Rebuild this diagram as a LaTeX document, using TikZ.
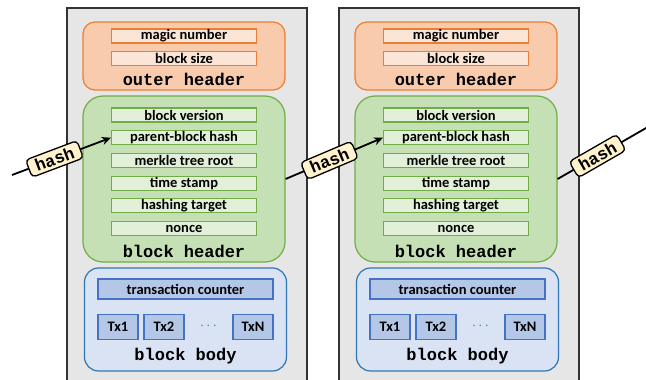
\documentclass[tikz,border=0pt]{standalone}
\usepackage{fontspec}
\setmainfont{Carlito}
\newfontfamily\courier{Liberation Mono}
\usetikzlibrary{arrows.meta}
\usetikzlibrary{positioning}
\usetikzlibrary{calc}
\definecolor{blkgray}{HTML}{E6E6E6}
\definecolor{orline}{HTML}{ED7D31}
\definecolor{orfill}{HTML}{F8CBAD}
\definecolor{orfield}{HTML}{FBE5D6}
\definecolor{grline}{HTML}{70AD47}
\definecolor{grfill}{HTML}{C5E0B4}
\definecolor{grfield}{HTML}{E2F0D9}
\definecolor{blline}{HTML}{2E75B6}
\definecolor{blfill}{HTML}{DAE3F3}
\definecolor{blfield}{HTML}{B4C7E7}
\definecolor{blfline}{HTML}{4472C4}
\definecolor{tagfill}{HTML}{FFF2CC}
\tikzset{
	container/.style={draw, line width=1.2pt, minimum width=202pt},
	field/.style={draw, line width=1.2pt, inner sep=0pt, minimum width=145pt,
		minimum height=14pt, font=\fontsize{14.5}{15}\selectfont\bfseries},
	title/.style={font=\fontsize{17}{18}\selectfont\courier\bfseries},
}

\begin{document}
\begin{tikzpicture}[x=1pt, y=-1pt,
	ofield/.style={field, draw=orline, fill=orfield},
	gfield/.style={field, draw=grline, fill=grfield},
	bfield/.style={field, draw=blfline, fill=blfield, minimum height=20pt},
	txbox/.style={bfield, minimum width=40pt, minimum height=25pt},
	hashline/.style={line width=1.8pt, -{Stealth[length=9pt,width=8pt]}},
	hashtag/.style={draw, line width=1.3pt, fill=tagfill, rounded corners=4pt,
		font=\fontsize{17}{18}\selectfont\courier\bfseries, inner xsep=7pt,
		inner ysep=3pt},
	node distance = 7.5pt and 6pt]
	
	\useasboundingbox (0,0) rectangle (646,380);
	\clip (0,0) rectangle (646,380);
	
	\foreach \b/\dx in {1/0, 2/272}{
	\begin{scope}[xshift=\dx pt]
	% block frame
	\draw[line width=1.3pt, draw=black!80, fill=blkgray] (67,8) rectangle (307,400);
	
	% outer header
	\node[container, draw=orline, fill=orfill, rounded corners=12pt,
		minimum height=68pt] (oh\b) at (184,56) {};
	\node[ofield, below=7pt of oh\b.north] (mag\b) {magic number};
	\node[ofield, below=of mag\b] (bsz\b) {block size};
	\node[title] at ($(oh\b.south)+(0,-11)$) {outer header};
	
	% block header
	\node[container, draw=grline, fill=grfill, rounded corners=20pt,
		minimum height=166pt] (bh\b) at (184,179) {};
	\node[gfield, below=12pt of bh\b.north] (ver\b) {block version};
	\node[gfield, below=of ver\b] (pf\b) {parent-block hash};
	\node[gfield, below=of pf\b] (mrk\b) {merkle tree root};
	\node[gfield, below=of mrk\b] (ts\b) {time stamp};
	\node[gfield, below=of ts\b] (tgt\b) {hashing target};
	\node[gfield, below=of tgt\b] (nc\b) {nonce};
	\node[title] at ($(bh\b.south)+(0,-11)$) {block header};
	
	% block body
	\node[container, draw=blline, fill=blfill, rounded corners=14pt,
		minimum height=103pt] (bb\b) at (185.5,319.5) {};
	\node[bfield, minimum width=175pt, below=11pt of bb\b.north] (txc\b) {transaction counter};
	\node[txbox, below right=14pt and 0pt of txc\b.south west] (txa\b) {Tx1};
	\node[txbox, below right=14pt and 46pt of txc\b.south west] (txb\b) {Tx2};
	\node[txbox, below left=14pt and 0pt of txc\b.south east] (txn\b) {TxN};
	\node[text=blfline, font=\Large] at ($(txb\b.east)!.5!(txn\b.west)$) {$\cdots$};
	\node[title] at ($(bb\b.south)+(0,-15)$) {block body};
	\end{scope}
	}
	
	% hash links
	\coordinate (in0) at (12,175);
	\coordinate (out2) at (660,120);
	\draw[hashline] (in0) -- node[hashtag, sloped, pos=.43] {hash} (pf1.west);
	\draw[hashline] (bh1.east) -- node[hashtag, sloped, pos=.45] {hash} (pf2.west);
	\draw[hashline] (bh2.east) -- node[hashtag, sloped, pos=.39] {hash} (out2);
\end{tikzpicture}
\end{document}
